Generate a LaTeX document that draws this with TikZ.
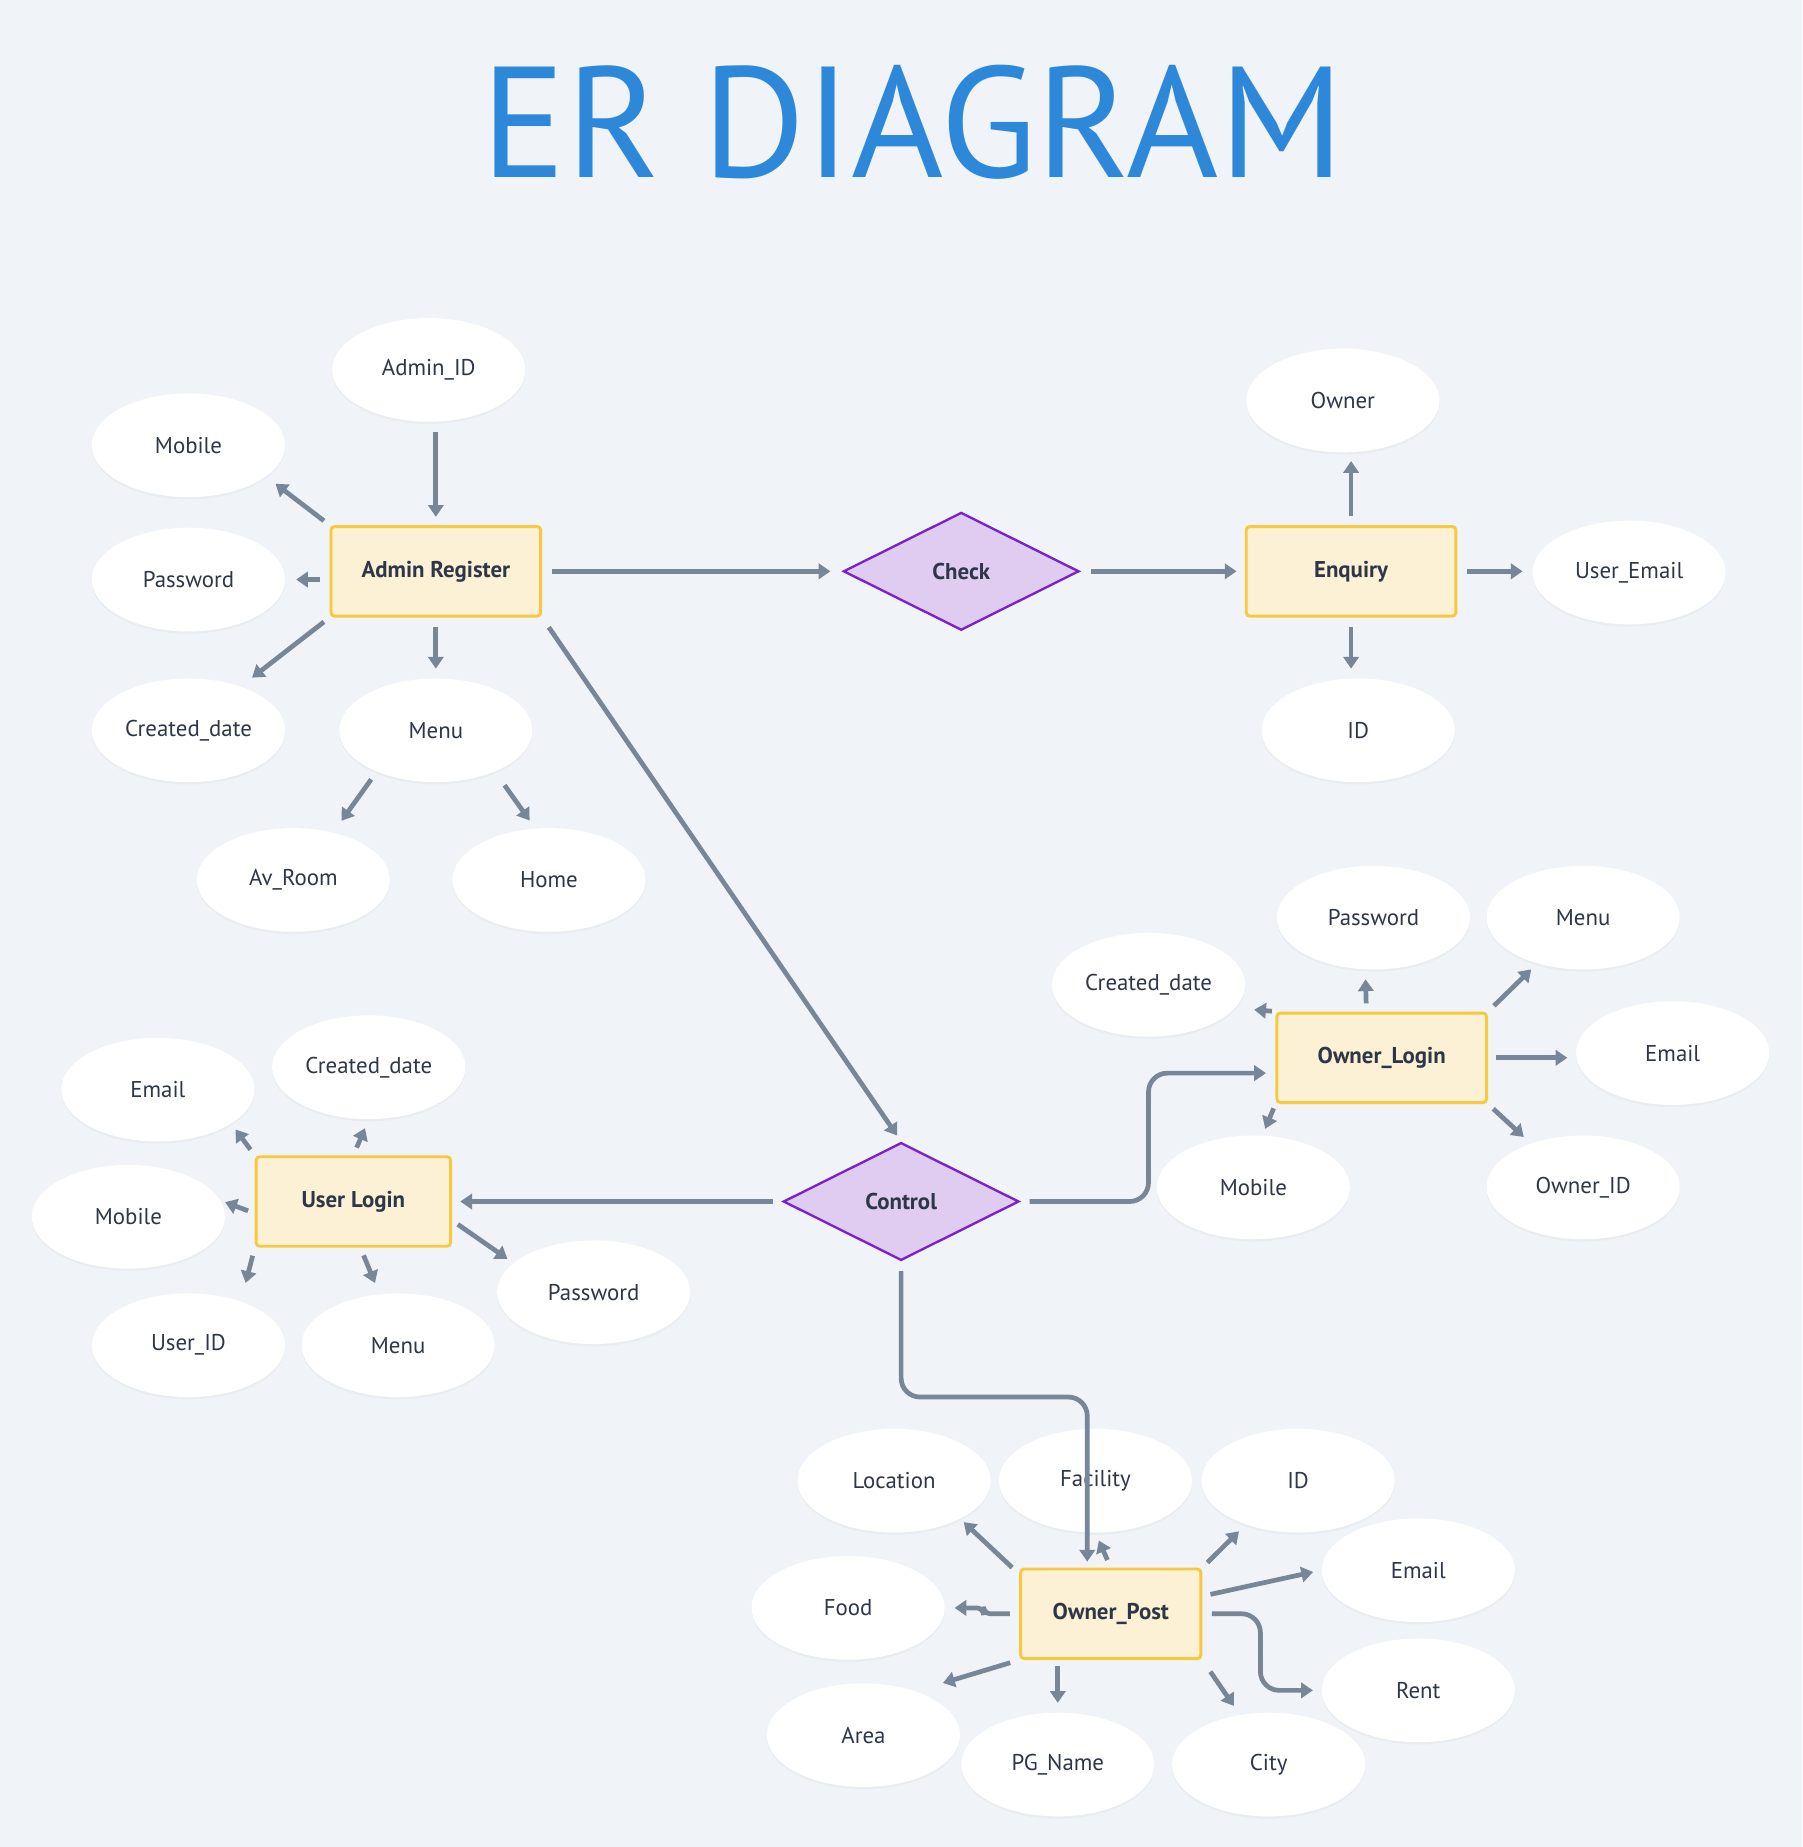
\documentclass[tikz,border=0pt]{standalone}
\usepackage{fontspec}
\setmainfont{PT Sans}
\usetikzlibrary{shapes.geometric,arrows.meta,shadows}

\definecolor{bg}{HTML}{F0F3F7}
\definecolor{titleblue}{HTML}{2E88DA}
\definecolor{boxfill}{HTML}{FDF1D5}
\definecolor{boxline}{HTML}{F7C93E}
\definecolor{relfill}{HTML}{E1CCF1}
\definecolor{relline}{HTML}{7A22CC}
\definecolor{arrowgray}{HTML}{778797}
\definecolor{ink}{HTML}{2D3748}

\begin{document}
\begin{tikzpicture}[x=0.5pt,y=-0.5pt,
  attr/.style={ellipse,fill=white,minimum width=82pt,minimum height=44pt,inner sep=0pt,
    text=ink,font=\fontsize{9.7}{11}\selectfont,
    drop shadow={shadow xshift=0pt,shadow yshift=-1pt,opacity=0.05}},
  entity/.style={rectangle,rounded corners=1.5pt,draw=boxline,fill=boxfill,line width=1.25pt,
    minimum height=38pt,inner sep=0pt,text=ink,font=\fontsize{9.7}{11}\selectfont\bfseries},
  rel/.style={diamond,aspect=2,draw=relline,fill=relfill,line width=1pt,
    minimum width=100pt,minimum height=50pt,inner sep=0pt,text=ink,font=\fontsize{9.7}{11}\selectfont\bfseries},
  arr/.style={draw=arrowgray,line width=2pt,-{Triangle[width=6.5pt,length=5pt]}}]

  \fill[bg] (0,0) rectangle (1530,1568);

  \node[text=titleblue,font=\fontsize{67}{70}\selectfont] (title) at (775,104) {ER DIAGRAM};

  \node[entity,minimum width=89pt] (adminreg) at (370,485) {Admin Register};
  \node[rel] (check) at (816,485) {Check};
  \node[entity,minimum width=89pt] (enquiry) at (1147,485) {Enquiry};
  \node[entity,minimum width=89pt] (ownerlogin) at (1173,898) {Owner\_Login};
  \node[rel] (control) at (765,1020) {Control};
  \node[entity,minimum width=82.5pt] (userlogin) at (300,1020) {User Login};
  \node[entity,minimum width=76.5pt] (ownerpost) at (943,1370) {Owner\_Post};

  \node[attr] (adminid) at (364,314) {Admin\_ID};
  \node[attr] (amobile) at (160,378) {Mobile};
  \node[attr] (apassword) at (160,492) {Password};
  \node[attr] (acreated) at (160,620) {Created\_date};
  \node[attr] (amenu) at (370,620) {Menu};
  \node[attr] (avroom) at (249,747) {Av\_Room};
  \node[attr] (ahome) at (466,747) {Home};

  \node[attr] (eowner) at (1140,340) {Owner};
  \node[attr] (euseremail) at (1383,486) {User\_Email};
  \node[attr] (eid) at (1153,620) {ID};

  \node[attr] (olpassword) at (1166,779) {Password};
  \node[attr] (olmenu) at (1344,779) {Menu};
  \node[attr] (olcreated) at (975,836) {Created\_date};
  \node[attr] (olemail) at (1420,894) {Email};
  \node[attr] (olmobile) at (1064,1008) {Mobile};
  \node[attr] (olownerid) at (1344,1008) {Owner\_ID};

  \node[attr] (ulemail) at (134,925) {Email};
  \node[attr] (ulcreated) at (313,906) {Created\_date};
  \node[attr] (ulmobile) at (109,1033) {Mobile};
  \node[attr] (ulpassword) at (504,1097) {Password};
  \node[attr] (uluserid) at (160,1142) {User\_ID};
  \node[attr] (ulmenu) at (338,1142) {Menu};

  \node[attr] (oplocation) at (759,1257) {Location};
  \node[attr] (opfacility) at (930,1257) {Facility};
  \node[attr] (opid) at (1102,1257) {ID};
  \node[attr] (opemail) at (1204,1333) {Email};
  \node[attr] (opfood) at (720,1365) {Food};
  \node[attr] (oprent) at (1204,1435) {Rent};
  \node[attr] (oparea) at (733,1473) {Area};
  \node[attr] (oppgname) at (898,1498) {PG\_Name};
  \node[attr] (opcity) at (1077,1498) {City};

  \draw[arr,shorten <=4pt,shorten >=3.5pt] (adminid.south -| adminreg.north) -- (adminreg.north);
  \draw[arr,shorten <=3pt,shorten >=5pt] (adminreg.north west) -- (amobile.-22);
  \draw[arr,shorten <=4pt,shorten >=4.5pt] (adminreg.west |- apassword) -- (apassword.east);
  \draw[arr,shorten <=3pt,shorten >=6pt] (adminreg.south west) -- (acreated.40);
  \draw[arr,shorten <=4pt,shorten >=4pt] (adminreg.south) -- (amenu.north);
  \draw[arr,shorten <=4pt,shorten >=6pt] (amenu.215) -- (avroom.50);
  \draw[arr,shorten <=7pt,shorten >=4pt] (amenu.-35) -- (ahome.105);
  \draw[arr,shorten <=4pt,shorten >=5pt] (adminreg.east) -- (check.west);
  \draw[arr,shorten <=5pt,shorten >=3pt] (adminreg.south east) -- (control.north);

  \draw[arr,shorten <=4.5pt,shorten >=3.5pt] (check.east) -- (enquiry.west);
  \draw[arr,shorten <=4pt,shorten >=3.5pt] (enquiry.north) -- (enquiry.north |- eowner.south);
  \draw[arr,shorten <=4pt,shorten >=4pt] (enquiry.east) -- (enquiry.east -| euseremail.west);
  \draw[arr,shorten <=4pt,shorten >=4pt] (enquiry.south) -- (enquiry.south |- eid.north);

  \draw[arr,shorten <=3.5pt,shorten >=4pt] ([xshift=-6.5pt]ownerlogin.north) -- ([xshift=-3.5pt]olpassword.south);
  \draw[arr,shorten <=3.5pt,shorten >=3.5pt] (ownerlogin.north east) -- (olmenu.225);
  \draw[arr,shorten <=1.5pt,shorten >=8pt] (ownerlogin.north west) -- (olcreated.-15);
  \draw[arr,shorten <=3.5pt,shorten >=3.5pt] (ownerlogin.east) -- (ownerlogin.east -| olemail.west);
  \draw[arr,shorten <=2pt,shorten >=3pt] (ownerlogin.south west) -- (olmobile.80);
  \draw[arr,shorten <=3pt,shorten >=4pt] (ownerlogin.south east) -- (olownerid.140);

  \coordinate (lbend) at (975,911);
  \coordinate (pbend) at (923,1186);
  \draw[arr,rounded corners=8pt,shorten <=4pt,shorten >=4pt] (control.east) -| (lbend) -- (ownerlogin.west |- lbend);
  \draw[arr,rounded corners=8pt,shorten <=4pt,shorten >=2.5pt] (control.south) |- (pbend) -- (pbend |- ownerpost.north);
  \draw[arr,shorten <=4pt,shorten >=3.5pt] (control.west) -- (userlogin.east);

  \draw[arr,shorten <=3pt,shorten >=3pt] (userlogin.north west) -- (ulemail.-25);
  \draw[arr,shorten <=3.5pt,shorten >=4pt] (userlogin.north) -- (ulcreated.south);
  \draw[arr,shorten <=3pt,shorten >=2pt] ([yshift=-5pt]userlogin.west) -- (ulmobile.10);
  \draw[arr,shorten <=3pt,shorten >=3pt] ([yshift=-8pt]userlogin.east) -- (ulpassword.160);
  \draw[arr,shorten <=3.5pt,shorten >=8pt] (userlogin.south west) -- (uluserid.40);
  \draw[arr,shorten <=3.5pt,shorten >=5pt] ([xshift=3pt]userlogin.south) -- (ulmenu.110);

  \coordinate (rbend) at (1070,1435);
  \coordinate (fbend) at (835,1370);
  \draw[arr,shorten >=2pt] ([xshift=-3pt]ownerpost.north west) -- (oplocation.-30);
  \draw[arr,shorten <=3.5pt,shorten >=3.5pt] (ownerpost.north) -- (opfacility.south);
  \draw[arr,shorten <=3pt,shorten >=4pt] (ownerpost.north east) -- (opid.220);
  \draw[arr,shorten <=3.5pt,shorten >=3.5pt] ([yshift=7.5pt]ownerpost.east) -- (opemail.west);
  \draw[arr,rounded corners=8pt,shorten <=4pt,shorten >=3.5pt] (ownerpost.east) -| (rbend) -- (oprent.west);
  \draw[arr,rounded corners=3pt,shorten <=4pt,shorten >=4pt] (ownerpost.west) -- (fbend) |- (opfood.east);
  \draw[arr,shorten <=4pt,shorten >=12pt] (ownerpost.south west) -- (oparea.40);
  \draw[arr,shorten <=2.5pt,shorten >=4pt] (ownerpost.south -| oppgname) -- (oppgname.north);
  \draw[arr,shorten <=6pt,shorten >=4.5pt] (ownerpost.south east) -- (opcity.120);

\end{tikzpicture}
\end{document}
